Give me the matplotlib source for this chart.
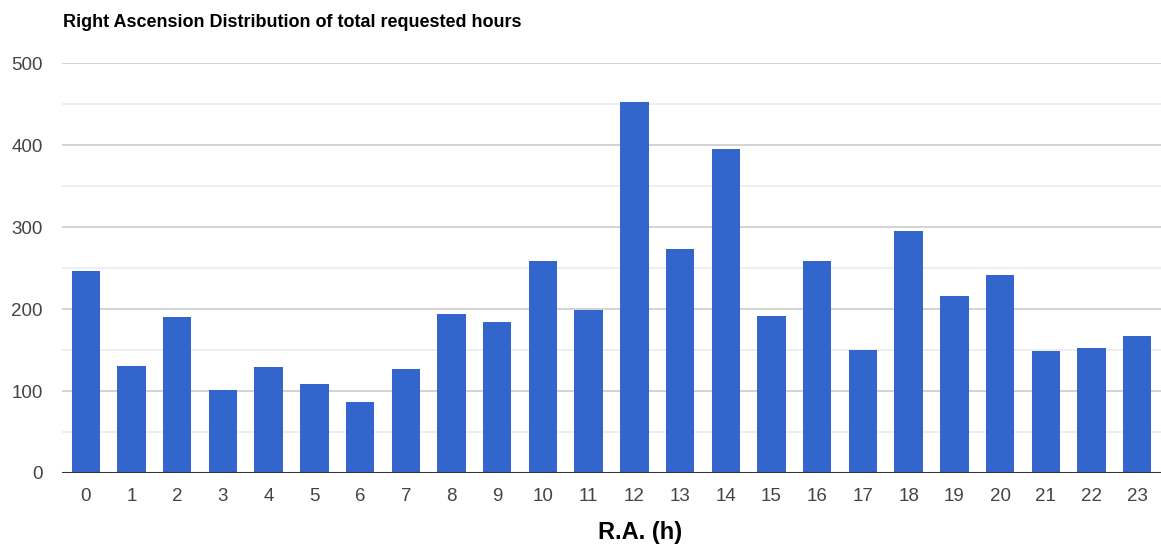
import matplotlib
matplotlib.use("Agg")
import matplotlib.pyplot as plt
from matplotlib.ticker import MultipleLocator

plt.rcParams["font.family"] = ["Liberation Sans", "DejaVu Sans"]

ra_hours = list(range(24))
requested_hours = [246, 130, 190, 101, 129, 108, 87, 127, 194, 184, 259, 199,
                   452, 273, 395, 191, 259, 150, 295, 216, 241, 149, 152, 167]

fig = plt.figure(figsize=(11.61, 5.46), dpi=100)
ax = fig.add_axes([0.0534, 0.1337, 0.9466, 0.7509])

ax.bar(ra_hours, requested_hours, width=0.62, color="#3366cc", zorder=3)

ax.set_xlim(-0.52, 23.52)
ax.set_ylim(0, 500)
ax.yaxis.set_major_locator(MultipleLocator(100))
ax.yaxis.set_minor_locator(MultipleLocator(50))
ax.set_xticks(ra_hours)
ax.set_xticklabels([str(h) for h in ra_hours])

ax.grid(axis="y", which="major", color="#cccccc", linewidth=1.2, zorder=0)
ax.grid(axis="y", which="minor", color="#ebebeb", linewidth=1.2, zorder=0)
ax.axhline(0, color="#333333", linewidth=1.5, zorder=4)

for side in ("top", "right", "left", "bottom"):
    ax.spines[side].set_visible(False)
ax.tick_params(axis="both", which="both", length=0, labelsize=13.5, labelcolor="#444444")
ax.tick_params(axis="y", pad=14)
ax.tick_params(axis="x", pad=11)

ax.set_xlabel("R.A. (h)", fontsize=17, fontweight="bold")
ax.xaxis.set_label_coords(0.526, -0.118)
fig.text(0.0543, 0.958, "Right Ascension Distribution of total requested hours",
         fontsize=13, fontweight="bold", va="center", ha="left")

fig.savefig("out.png", dpi=100)
